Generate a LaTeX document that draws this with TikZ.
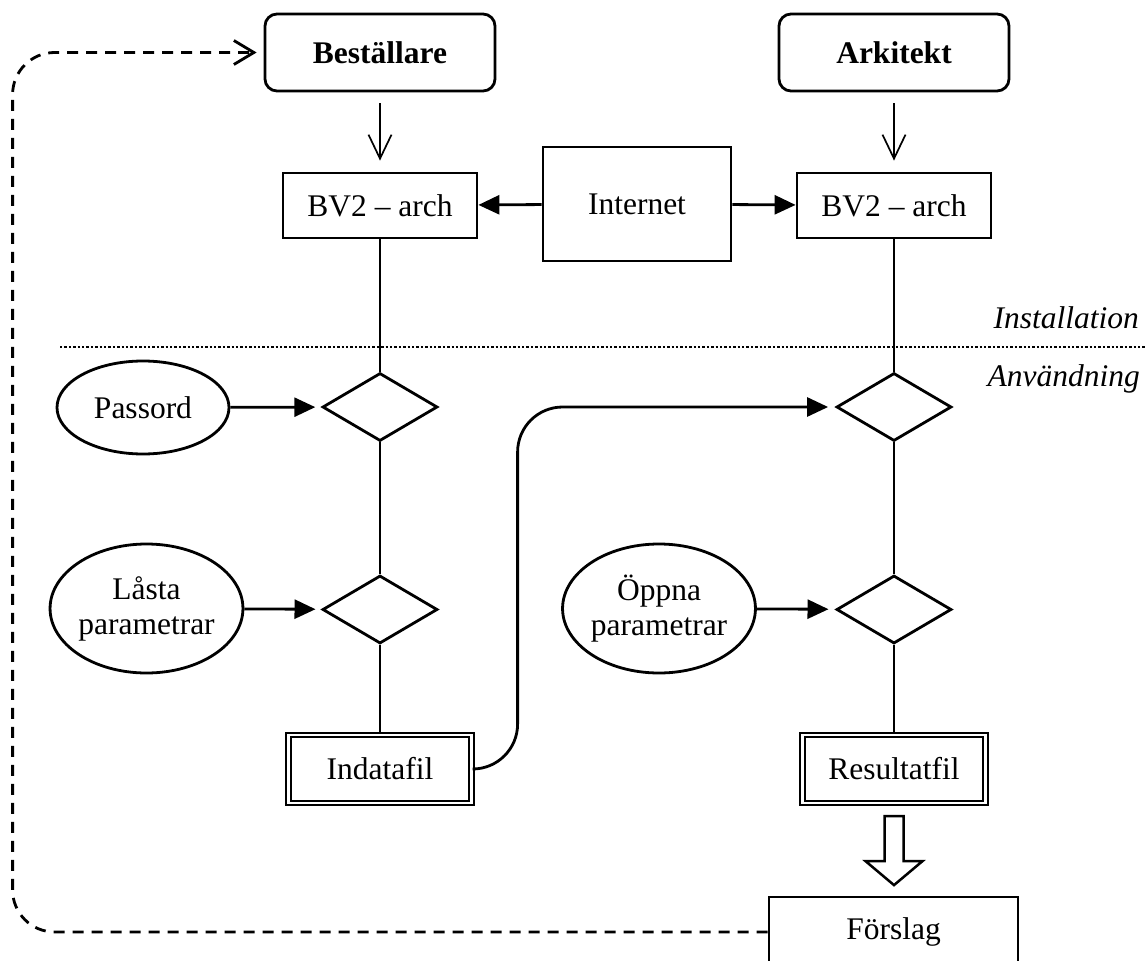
\documentclass[tikz,border=0pt]{standalone}
\usepackage{fontspec}
\setmainfont{Liberation Serif}
\usetikzlibrary{shapes.geometric,arrows.meta,calc}
\begin{document}
\begin{tikzpicture}[x=1pt,y=-1pt,
  txt/.style={font=\fontsize{31.5pt}{35pt}\selectfont},
  lw/.style={line width=2.8pt},
  actor/.style={draw,lw,rounded corners=12pt,minimum width=230pt,minimum height=77pt,inner sep=0pt,font=\fontsize{31.5pt}{35pt}\selectfont\bfseries},
  plainbox/.style={draw,lw,inner sep=0pt,txt},
  filebox/.style={draw,line width=2.2pt,double,double distance=2.2pt,minimum width=183pt,minimum height=68pt,inner sep=0pt,txt},
  oval/.style={draw,lw,ellipse,inner sep=0pt,txt,align=center},
  gate/.style={draw,lw,diamond,minimum width=115pt,minimum height=68pt,inner sep=0pt},
  conn/.style={lw},
  fillarrow/.style={lw,-{Triangle[length=21pt,width=19pt]}},
  openarrow/.style={line width=1.7pt,-{Straight Barb[length=24pt,width=23pt]},shorten <=11pt,shorten >=11pt},
  dashconn/.style={line width=2.8pt,dash pattern=on 11pt off 8pt,rounded corners=42pt,-{Straight Barb[length=20pt,width=24pt,line width=2.8pt]},shorten >=7pt},
  seplabel/.style={font=\fontsize{31.5pt}{35pt}\selectfont\itshape,inner sep=0pt,anchor=base east}
]
\useasboundingbox (0,0) rectangle (1146,961);

% actors
\node[actor] (best) at (380,52.5) {Beställare};
\node[actor] (ark) at (894,52.5) {Arkitekt};

% installation boxes
\node[plainbox,minimum width=194pt,minimum height=65pt] (bvl) at (380,205.5) {BV2 – arch};
\node[plainbox,minimum width=194pt,minimum height=65pt] (bvr) at (894,205.5) {BV2 – arch};
\node[plainbox,minimum width=188pt,minimum height=114pt] (inet) at (637,204) {Internet};

% separator
\coordinate (sepL) at (60,347);
\coordinate (sepR) at (1146,347);
\draw[line width=2.6pt,dash pattern=on 2.4pt off 2pt] (sepL) -- (sepR);
\node[seplabel] (inst) at (1139,328) {Installation};
\node[seplabel] (anv) at (1140,386) {Användning};

% gates
\node[gate] (dl1) at (380,407) {};
\node[gate] (dl2) at (380,609.5) {};
\node[gate] (dr1) at (894,407) {};
\node[gate] (dr2) at (894,609.5) {};

% ovals
\node[oval,minimum width=172pt,minimum height=93pt] (pass) at (143,407.5) {Passord};
\node[oval,minimum width=191pt,minimum height=129pt] (lasta) at (146.5,608.5) {Låsta\\parametrar};
\node[oval,minimum width=192pt,minimum height=129pt] (oppna) at (659,608.5) {Öppna\\parametrar};

% files
\node[filebox] (ind) at (380,769) {Indatafil};
\node[filebox] (res) at (894,769) {Resultatfil};

% proposal
\node[plainbox,minimum width=249pt,minimum height=70pt] (fors) at (893.5,932) {Förslag};

% connectors
\draw[openarrow] (best) -- (bvl);
\draw[openarrow] (ark) -- (bvr);
\draw[fillarrow] (inet) -- (bvl);
\draw[fillarrow] (inet) -- (bvr);

\draw[conn] (bvl) -- (dl1);
\draw[conn] (dl1) -- (dl2);
\draw[conn] (dl2) -- (ind);
\draw[conn] (bvr) -- (dr1);
\draw[conn] (dr1) -- (dr2);
\draw[conn] (dr2) -- (res);

\draw[fillarrow,shorten >=6pt] (pass) -- (dl1);
\draw[fillarrow,shorten >=6pt] (lasta) -- (dl2);
\draw[fillarrow,shorten >=7pt] (oppna) -- (dr2);
\draw[fillarrow,shorten >=7pt,rounded corners=45pt] (ind.east) -- ++(45,0) |- (dr1.west);

% hollow arrow Resultatfil -> Förslag
\draw[line width=2.5pt,fill=white,line join=miter]
  ($(res.south)+(-9.5,12)$) -- ++(0,45) -- ++(-19,0) -- ($(res.south)+(0,81)$)
  -- ($(res.south)+(28.5,57)$) -- ++(-19,0) -- ($(res.south)+(9.5,12)$) -- cycle;

% feedback loop
\draw[dashconn] (fors.west) -- ++(-755,0) |- (best.west);
\end{tikzpicture}
\end{document}
